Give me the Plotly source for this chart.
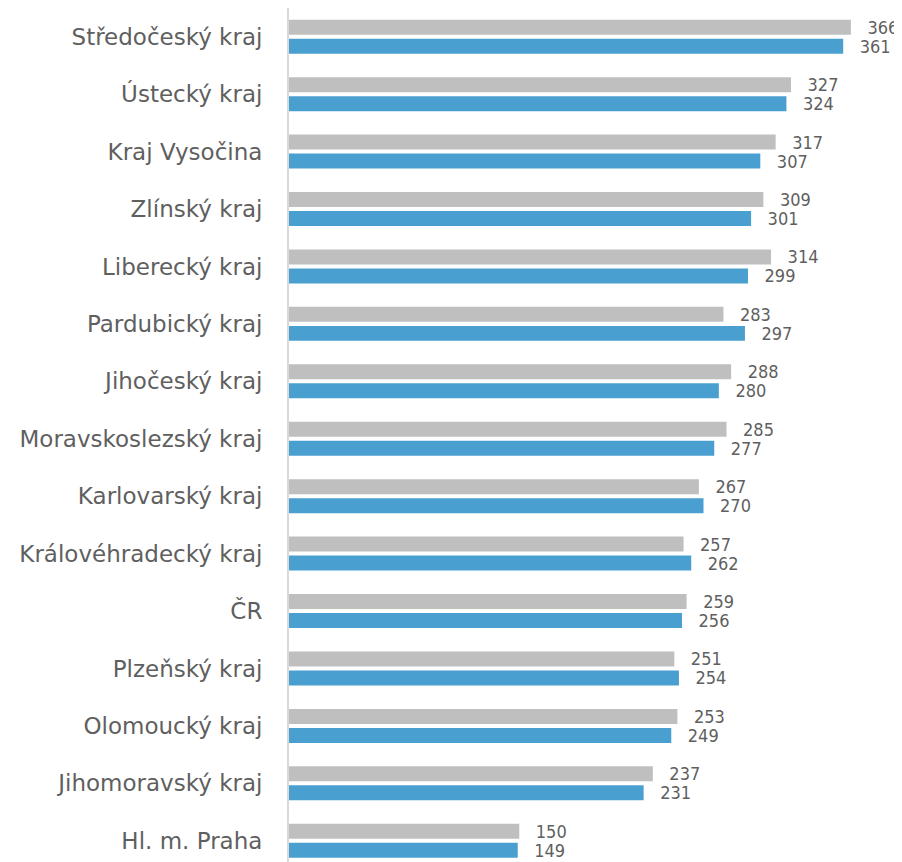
import plotly.graph_objects as go

categories = ["Středočeský kraj", "Ústecký kraj", "Kraj Vysočina", "Zlínský kraj",
              "Liberecký kraj", "Pardubický kraj", "Jihočeský kraj", "Moravskoslezský kraj",
              "Karlovarský kraj", "Královéhradecký kraj", "ČR", "Plzeňský kraj",
              "Olomoucký kraj", "Jihomoravský kraj", "Hl. m. Praha"]
series_grey = [366, 327, 317, 309, 314, 283, 288, 285, 267, 257, 259, 251, 253, 237, 150]
series_blue = [361, 324, 307, 301, 299, 297, 280, 277, 270, 262, 256, 254, 249, 231, 149]

NUM_FONT = "DejaVu Sans Condensed, DejaVu Sans"
LBL_FONT = "DejaVu Sans"
TXT = "#5f5f5f"
PAD = "\u00a0\u00a0\u2009"

fig = go.Figure()
fig.add_trace(go.Bar(
    y=categories, x=series_grey, orientation="h", name="grey",
    marker=dict(color="#BFBFBF", line=dict(width=0)),
    width=0.261, offset=-0.296,
    text=[PAD + str(v) for v in series_grey], textposition="outside",
    constraintext="none", cliponaxis=False,
    textfont=dict(family=NUM_FONT, size=18, color=TXT),
))
fig.add_trace(go.Bar(
    y=categories, x=series_blue, orientation="h", name="blue",
    marker=dict(color="#4A9FD1", line=dict(width=0)),
    width=0.261, offset=0.035,
    text=[PAD + str(v) for v in series_blue], textposition="outside",
    constraintext="none", cliponaxis=False,
    textfont=dict(family=NUM_FONT, size=18, color=TXT),
))

fig.update_layout(
    width=894, height=854,
    margin=dict(l=281, r=0, t=0, b=0, autoexpand=False),
    barmode="overlay",
    showlegend=False,
    plot_bgcolor="white", paper_bgcolor="white",
    xaxis=dict(range=[0, 399.3], visible=False, showgrid=False, zeroline=False,
               automargin=False),
    yaxis=dict(
        type="category", categoryorder="array", categoryarray=categories,
        range=[14.37, -0.5], automargin=False,
        showline=True, linecolor="#D9D9D9", linewidth=2,
        showgrid=False, zeroline=False, ticks="",
        ticklabelstandoff=20,
        tickfont=dict(family=LBL_FONT, size=23, color=TXT),
    ),
)

fig.write_html("out.html")
